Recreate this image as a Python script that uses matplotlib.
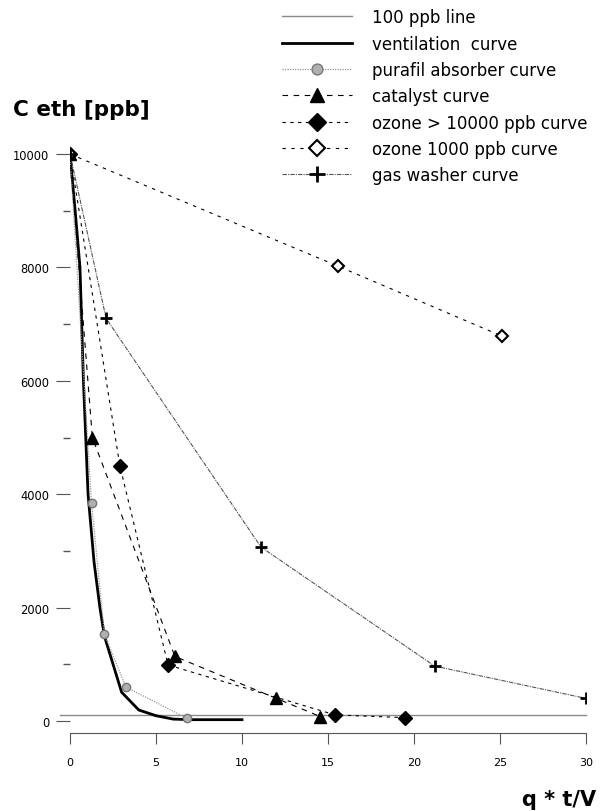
import matplotlib
matplotlib.use("Agg")
import matplotlib.pyplot as plt
from matplotlib.ticker import MultipleLocator

# data
vent_x = [0, 0.3, 0.58, 0.78, 1.05, 1.4, 1.74, 2.0, 3.0, 4.0, 5.0, 6.0, 7.0, 10.0]
vent_y = [10000, 9000, 8000, 6000, 4000, 2800, 2000, 1500, 510, 195, 95, 35, 25, 25]

pura_x = [0, 1.25, 2.0, 3.25, 6.8]
pura_y = [10000, 3850, 1530, 600, 50]

cat_x = [0, 1.3, 6.1, 12.0, 14.55]
cat_y = [10000, 5000, 1140, 400, 80]

oz_hi_x = [0, 2.9, 5.7, 15.4, 19.5]
oz_hi_y = [10000, 4500, 990, 110, 60]

oz_lo_x = [0, 15.6, 25.1]
oz_lo_y = [10000, 8020, 6790]

gas_x = [0, 2.1, 11.1, 21.2, 30]
gas_y = [10000, 7100, 3070, 970, 400]

limit_x = [-0.6, 30]
limit_y = [100, 100]

fig = plt.figure(figsize=(6, 8.12), dpi=100)
ax = fig.add_axes([70/600, 78/812, 516/600, 596/812])

l0, = ax.plot(limit_x, limit_y, color="#8a8a8a", lw=1.0, clip_on=False,
              label="100 ppb line")
l1, = ax.plot(vent_x, vent_y, color="black", lw=2.0, label="ventilation  curve")
l2, = ax.plot(pura_x, pura_y, color="#999999", lw=0.9, ls=(0, (1, 1)),
              marker="o", ms=6, mfc="#b0b0b0", mec="#777777", mew=1,
              label="purafil absorber curve")
l3, = ax.plot(cat_x, cat_y, color="black", lw=0.8, ls=(0, (5, 5)),
              marker="^", ms=8, mfc="black", mec="black",
              label="catalyst curve")
l4, = ax.plot(oz_hi_x, oz_hi_y, color="black", lw=0.8, ls=(0, (3, 4)),
              marker="D", ms=7, mfc="black", mec="black",
              label="ozone > 10000 ppb curve")
l5, = ax.plot(oz_lo_x, oz_lo_y, color="black", lw=0.8, ls=(0, (3, 5)),
              marker="D", ms=6, mfc="white", mec="black", mew=1.5,
              label="ozone 1000 ppb curve")
l6, = ax.plot(gas_x, gas_y, color="#555555", lw=0.8, ls=(0, (4, 1, 1, 1)),
              marker="+", ms=9, mec="black", mew=2,
              label="gas washer curve")

ax.set_xlim(0, 30)
ax.set_ylim(-210, 10300)

for s in ["top", "right", "left"]:
    ax.spines[s].set_visible(False)
ax.spines["bottom"].set_color("#555555")
ax.spines["bottom"].set_linewidth(0.8)

ax.xaxis.set_major_locator(MultipleLocator(5))
ax.yaxis.set_major_locator(MultipleLocator(2000))
ax.yaxis.set_minor_locator(MultipleLocator(1000))
ax.tick_params(axis="x", which="major", length=8, width=0.8, color="#555555",
               labelsize=8, pad=9)
ax.tick_params(axis="y", which="major", length=10, width=0.8, color="#555555",
               labelsize=8.3, pad=5)
ax.tick_params(axis="y", which="minor", length=5, width=1.0, color="#555555")

fig.text(13/600, 1 - 110/812, "C eth [ppb]", fontsize=15.5, fontweight="bold",
         va="center", ha="left")
fig.text(596/600, 1 - 800/812, "q * t/V", fontsize=15, fontweight="bold",
         va="center", ha="right")

fig.legend(handles=[l0, l1, l2, l3, l4, l5, l6], loc="upper left",
           bbox_to_anchor=(273/600, 1.0), frameon=False, fontsize=12,
           handlelength=4.2, labelspacing=0.5, handletextpad=1.2,
           markerscale=1.3, borderaxespad=0.15)

fig.savefig("out.png", dpi=100)
